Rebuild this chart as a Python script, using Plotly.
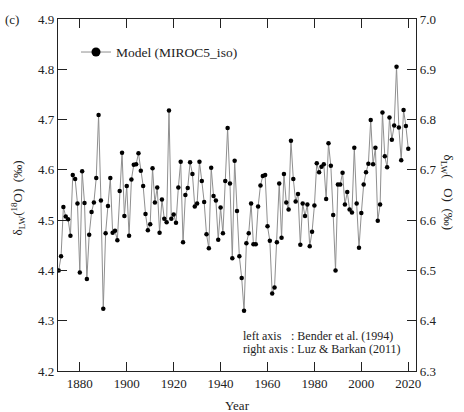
import plotly.graph_objects as go

# Annual model values, 1871-2020
years = list(range(1871, 2021))
delta_lw = [
    4.400, 4.428, 4.526, 4.507, 4.502, 4.469, 4.590, 4.582, 4.533, 4.396,  # 1871-1880
    4.597, 4.534, 4.383, 4.471, 4.516, 4.535, 4.584, 4.709, 4.539, 4.324,  # 1881-1890
    4.474, 4.528, 4.584, 4.475, 4.479, 4.460, 4.558, 4.634, 4.508, 4.568,  # 1891-1900
    4.469, 4.581, 4.610, 4.611, 4.633, 4.598, 4.568, 4.512, 4.480, 4.492,  # 1901-1910
    4.603, 4.535, 4.565, 4.475, 4.541, 4.503, 4.496, 4.718, 4.503, 4.511,  # 1911-1920
    4.495, 4.565, 4.616, 4.456, 4.550, 4.564, 4.615, 4.592, 4.527, 4.533,  # 1921-1930
    4.616, 4.578, 4.536, 4.472, 4.444, 4.604, 4.548, 4.539, 4.461, 4.525,  # 1931-1940
    4.474, 4.578, 4.683, 4.573, 4.424, 4.618, 4.518, 4.428, 4.385, 4.320,  # 1941-1950
    4.454, 4.474, 4.533, 4.452, 4.452, 4.527, 4.569, 4.588, 4.590, 4.488,  # 1951-1960
    4.459, 4.354, 4.366, 4.456, 4.573, 4.465, 4.592, 4.535, 4.521, 4.658,  # 1961-1970
    4.582, 4.537, 4.552, 4.451, 4.533, 4.508, 4.531, 4.448, 4.477, 4.529,  # 1971-1980
    4.613, 4.595, 4.606, 4.611, 4.542, 4.653, 4.608, 4.510, 4.400, 4.571,  # 1981-1990
    4.571, 4.594, 4.531, 4.556, 4.521, 4.515, 4.644, 4.533, 4.445, 4.514,  # 1991-2000
    4.571, 4.595, 4.612, 4.699, 4.611, 4.644, 4.499, 4.531, 4.714, 4.627,  # 2001-2010
    4.605, 4.704, 4.660, 4.688, 4.805, 4.684, 4.619, 4.719, 4.687, 4.642,  # 2011-2020
]

left_ticks = [4.2, 4.3, 4.4, 4.5, 4.6, 4.7, 4.8, 4.9]
right_ticks = [6.3, 6.4, 6.5, 6.6, 6.7, 6.8, 6.9, 7.0]
year_ticks = [1880, 1900, 1920, 1940, 1960, 1980, 2000, 2020]

W, H = 464, 412
ML, MR, MT, MB = 58, 48, 14, 41
PW, PH = W - ML - MR, H - MT - MB


def px(xp):
    return (xp - ML) / PW


def py(yp):
    return 1 - (yp - MT) / PH


FONT = "Liberation Serif"
AX = "#222222"

fig = go.Figure()

fig.add_trace(go.Scatter(
    x=years, y=delta_lw, mode="lines+markers",
    line=dict(color="#8f8f8f", width=1),
    marker=dict(color="black", size=4.5),
    showlegend=False, hoverinfo="x+y",
))

# legend entry with a larger symbol
fig.add_trace(go.Scatter(
    x=[None], y=[None], mode="lines+markers",
    line=dict(color="#8f8f8f", width=1),
    marker=dict(color="black", size=9),
    name="Model (MIROC5_iso)", showlegend=True,
))

# secondary scale on the right
fig.add_trace(go.Scatter(x=[None], y=[None], yaxis="y2", showlegend=False))

axis_common = dict(
    showgrid=False, zeroline=False, showline=True, linecolor=AX, linewidth=1.2,
    ticks="inside", ticklen=9, tickwidth=1.2, tickcolor=AX,
    tickfont=dict(family=FONT, size=13, color="#222"),
)

fig.update_layout(
    width=W, height=H,
    margin=dict(l=ML, r=MR, t=MT, b=MB),
    paper_bgcolor="white", plot_bgcolor="white",
    font=dict(family=FONT, size=13, color="#222"),
    xaxis=dict(range=[1870.7, 2023.3], tickvals=year_ticks, mirror="ticks",
               **axis_common),
    yaxis=dict(range=[4.2, 4.9], tickvals=left_ticks, tickformat=".1f",
               **axis_common),
    yaxis2=dict(range=[6.3, 7.0], tickvals=right_ticks, tickformat=".1f",
                overlaying="y", side="right", **axis_common),
    showlegend=True,
    legend=dict(x=px(76), y=py(32), xanchor="left", yanchor="top",
                bgcolor="rgba(0,0,0,0)", font=dict(family=FONT, size=13.5, color="#222")),
)

annotations = [
    dict(text="(c)", x=px(3), y=py(14), xanchor="left", yanchor="middle",
         font=dict(size=13)),
    dict(text="Year", x=0.5, y=py(406), xanchor="center", yanchor="middle",
         font=dict(size=13)),
    dict(text="δ<sub>LW</sub>(<sup>18</sup>O)  (‰)", x=px(18), y=py(196),
         xanchor="center", yanchor="middle", textangle=-90, font=dict(size=13)),
    dict(text="δ<sub>LW</sub>(   O)  (‰)", x=px(447), y=py(190),
         xanchor="center", yanchor="middle", textangle=90, font=dict(size=13)),
    dict(text="left axis", x=px(241), y=py(335), xanchor="left", yanchor="middle",
         font=dict(size=12)),
    dict(text="right axis", x=px(241), y=py(349), xanchor="left", yanchor="middle",
         font=dict(size=12)),
    dict(text=": Bender et al. (1994)", x=px(289), y=py(335), xanchor="left",
         yanchor="middle", font=dict(size=12)),
    dict(text=": Luz &amp; Barkan (2011)", x=px(289), y=py(349), xanchor="left",
         yanchor="middle", font=dict(size=12)),
]
for a in annotations:
    a.update(xref="paper", yref="paper", showarrow=False)
    a["font"] = dict(family=FONT, color="#222", **a["font"])
fig.update_layout(annotations=annotations)

fig.write_html("out.html")
